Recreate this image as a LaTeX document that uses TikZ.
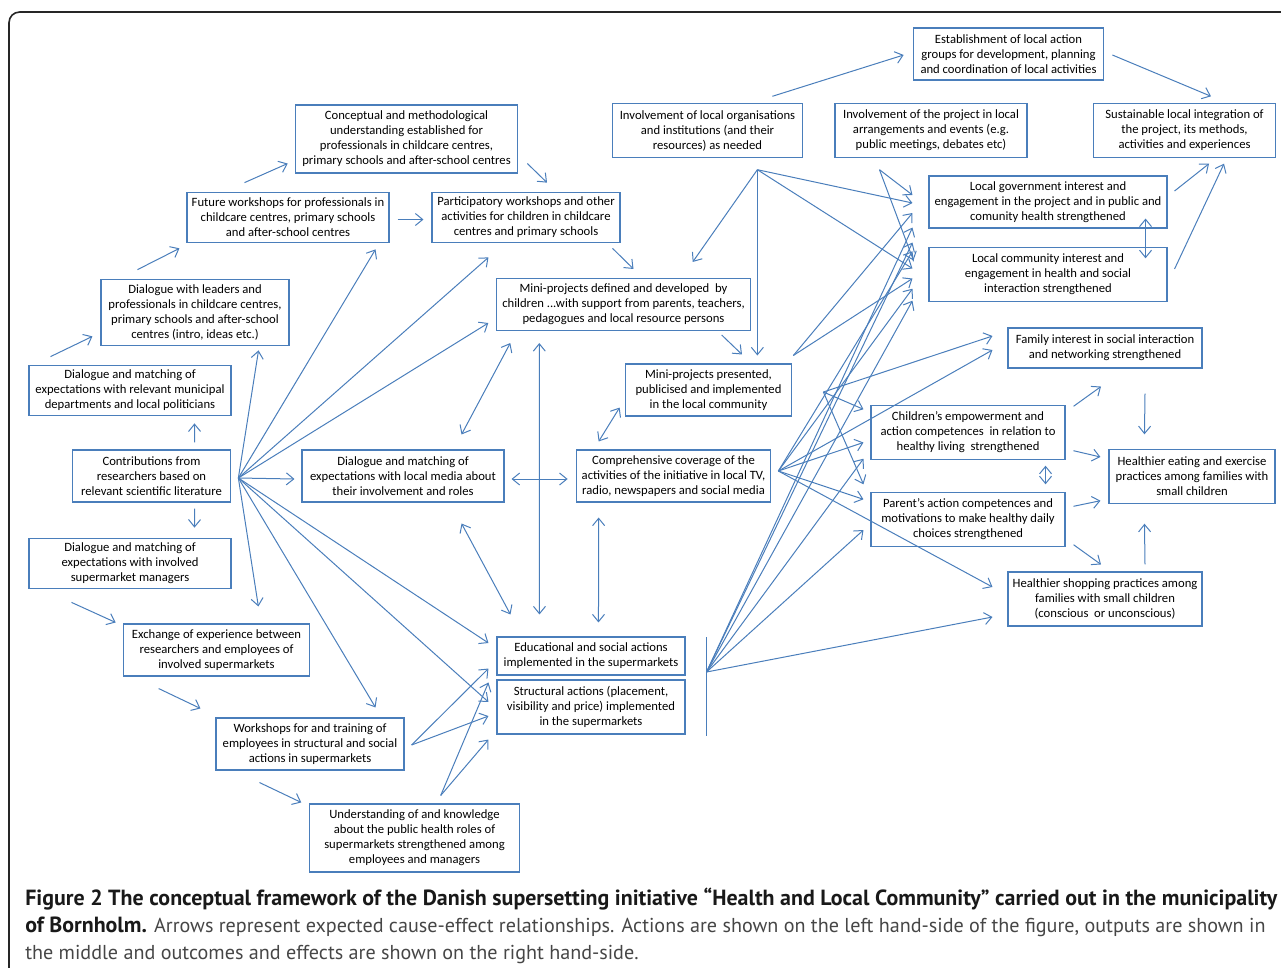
\documentclass[tikz,border=0pt]{standalone}
\usepackage{fontspec}
\setmainfont{Carlito}
\newfontfamily\capfont{PT Sans}
\usetikzlibrary{arrows.meta,calc}
\definecolor{boxblue}{RGB}{74,126,187}
\definecolor{capgray}{RGB}{70,70,70}
\newcommand{\capbold}[1]{{\fontsize{16.45}{20}\selectfont\bfseries\color{black!90}#1}}
\tikzset{
  box/.style={draw=boxblue, line width=0.8pt, align=center, inner sep=1pt,
    font=\fontsize{9.5}{11.25}\selectfont},
  arr/.style={->, draw=boxblue, line width=0.75pt},
  darr/.style={<->, draw=boxblue, line width=0.75pt}
}
\begin{document}
\begin{tikzpicture}[x=0.75pt,y=-0.75pt,>={Straight Barb[length=5.5pt,width=9pt]}]
\useasboundingbox (0,0) rectangle (1281,967);
\draw[line width=1.2pt, rounded corners=8pt, black!85] (9,980) -- (9,12) -- (1295,12); % --- frame

%---- actions (left)
\node[box, minimum width=167pt, minimum height=51pt] (concept) at (406.5,139) {Conceptual and methodological\\understanding established for\\professionals in childcare centres,\\primary schools and after-school centres};
\node[box, minimum width=151.5pt, minimum height=38pt] (future) at (288,217.5) {Future workshops for professionals in\\childcare centres, primary schools\\and after-school centres};
\node[box, minimum width=141pt, minimum height=38pt] (partic) at (526,217.5) {Participatory workshops and other\\activities for children in childcare\\centres and primary schools};
\node[box, minimum width=141pt, minimum height=50pt] (dlead) at (195,312.5) {Dialogue with leaders and\\professionals in childcare centres,\\primary schools and after-school\\centres (intro, ideas etc.)};
\node[box, minimum width=151.5pt, minimum height=38pt] (dmun) at (130,390.5) {Dialogue and matching of\\expectations with relevant municipal\\departments and local politicians};
\node[box, minimum width=119pt, minimum height=39pt] (contrib) at (151.5,476) {Contributions from\\researchers based on\\relevant scientific literature};
\node[box, minimum width=151.5pt, minimum height=38pt] (dsuper) at (130,563.5) {Dialogue and matching of\\expectations with involved\\supermarket managers};
\node[box, minimum width=140pt, minimum height=39pt] (exchange) at (216.5,650) {Exchange of experience between\\researchers and employees of\\involved supermarkets};
\node[box, minimum width=141pt, minimum height=39pt] (workshops) at (310,744) {Workshops for and training of\\employees in structural and social\\actions in supermarkets};
\node[box, minimum width=157pt, minimum height=51pt] (underst) at (414.5,838) {Understanding of and knowledge\\about the public health roles of\\supermarkets strengthened among\\employees and managers};
\node[box, minimum width=151.5pt, minimum height=39pt] (dmedia) at (403,476) {Dialogue and matching of\\expectations with local media about\\their involvement and roles};
\node[box, minimum width=190pt, minimum height=39pt] (mini) at (623.5,304.5) {Mini-projects defined and developed~ by\\children ...with support from parents, teachers,\\pedagogues and local resource persons};
\node[box, minimum width=125pt, minimum height=39pt] (minipres) at (708.5,390) {Mini-projects presented,\\publicised and implemented\\in the local community};
\node[box, minimum width=146pt, minimum height=39pt] (compr) at (673.5,476) {Comprehensive coverage of the\\activities of the initiative in local TV,\\radio, newspapers and social media};
\node[box, minimum width=141pt, minimum height=28.5pt] (educ) at (591,656) {Educational and social actions\\implemented in the supermarkets};
\node[box, minimum width=141pt, minimum height=40.5pt] (struct) at (591,707) {Structural actions (placement,\\visibility and price) implemented\\in the supermarkets};
\node[box, minimum width=143pt, minimum height=40pt] (involv) at (707.5,130.5) {Involvement of local organisations\\and institutions (and their\\resources) as needed};
\node[box, minimum width=144pt, minimum height=40pt] (proj) at (931,130.5) {Involvement of the project in local\\arrangements and events (e.g.\\public meetings, debates etc)};

%---- outcomes and effects (right)
\node[box, minimum width=143pt, minimum height=39pt] (estab) at (1008.5,54) {Establishment of local action\\groups for development, planning\\and coordination of local activities};
\node[box, minimum width=136pt, minimum height=40pt] (sustain) at (1184.5,130.5) {Sustainable local integration of\\the project, its methods,\\activities and experiences};
\node[box, minimum width=178.5pt, minimum height=39pt] (lgov) at (1048,202) {Local government interest and\\engagement in the project and in public and\\comunity health strengthened};
\node[box, minimum width=178.5pt, minimum height=40pt] (lcom) at (1048,274.5) {Local community interest and\\engagement in health and social\\interaction strengthened};
\node[box, minimum width=145.5pt, minimum height=30pt] (family) at (1105,348) {Family interest in social interaction\\and networking strengthened};
\node[box, minimum width=145.5pt, minimum height=40pt] (children) at (968,432.5) {Children's empowerment and\\action competences~ in relation to\\healthy living~ strengthened};
\node[box, minimum width=145.5pt, minimum height=40pt] (parent) at (968,519.5) {Parent’s action competences and\\motivations to make healthy daily\\choices strengthened};
\node[box, minimum width=124.5pt, minimum height=40pt] (eating) at (1192,476.5) {Healthier eating and exercise\\practices among families with\\small children};
\node[box, minimum width=145.5pt, minimum height=40.5pt] (shopping) at (1105,599) {Healthier shopping practices among\\families with small children\\(conscious~ or unconscious)};

%---- hubs where arrows fan out
\coordinate (hubR) at ($(contrib.east)+(7,2)$);
\coordinate (hubW) at ($(workshops.east)+(7,1)$);
\coordinate (hubU) at ($(underst.north east)+(-79,-8)$);
\coordinate (hubI) at ($(involv.south east)+(-46,12)$);
\coordinate (hubP) at ($(proj.south west)+(45,12)$);
\coordinate (hubM) at ($(minipres.north east)+(1,-8)$);
\coordinate (hubN) at ($(minipres.east)+(31,2)$);
\coordinate (hubC) at ($(compr.east)+(7,-5)$);
\coordinate (hubS) at ($(educ.east)+(21,16)$);
\draw[boxblue, line width=0.75pt] ($(educ.north east)+(21,1)$) -- ($(struct.south east)+(21,1)$); % supermarket bar

%---- left chain
\draw[arr] ($(dmun.north west)+(22,-8)$) -- ($(dlead.south west)+(-8,-10)$);
\draw[arr] ($(dlead.north west)+(37,-9)$) -- ($(future.south west)+(-7,5)$);
\draw[arr] ($(future.north west)+(58,-9)$) -- ($(concept.south west)+(-7,-10)$);
\draw[arr] ($(concept.south east)+(9,-10)$) -- ($(partic.north)+(21,-9)$);
\draw[arr] ($(future.east)+(8,2)$) -- ($(partic.west)+(-8,2)$);
\draw[arr] ($(partic.south east)+(-8,5)$) -- ($(mini.north)+(10,-9)$);
\draw[arr] ($(contrib.north west)+(123,-7)$) -- ($(dmun.south west)+(166,7)$);
\draw[arr] ($(contrib.south west)+(123,6)$) -- ($(dsuper.north west)+(166,-10)$);
\draw[arr] ($(dsuper.south west)+(43,13)$) -- ($(exchange.north west)+(-7,-1)$);
\draw[arr] ($(exchange.south west)+(36,12)$) -- ($(workshops.north west)+(-15,-9)$);
\draw[arr] ($(workshops.south west)+(44,12)$) -- ($(underst.north west)+(-8,-1)$);

%---- fan from the researchers
\draw[arr] (hubR) -- ($(dlead.south east)+(-31,4)$);
\draw[arr] (hubR) -- ($(future.south east)+(-14,6)$);
\draw[arr] (hubR) -- ($(partic.south west)+(57,14)$);
\draw[arr] (hubR) -- ($(mini.south west)+(-8,-8)$);
\draw[arr] (hubR) -- ($(dmedia.west)+(-7,3)$);
\draw[arr] (hubR) -- ($(exchange.north east)+(-52,-17)$);
\draw[arr] (hubR) -- ($(workshops.north east)+(-29,-10)$);
\draw[arr] (hubR) -- ($(educ.west)+(-8,-13)$);
\draw[arr] (hubR) -- ($(struct.west)+(-8,-5)$);
\draw[arr] (hubW) -- ($(educ.south west)+(-8,-7)$);
\draw[arr] (hubW) -- ($(struct.west)+(-8,9)$);
\draw[arr] (hubU) -- ($(struct.north west)+(-8,3)$);
\draw[arr] (hubU) -- ($(struct.south west)+(-8,5)$);

%---- outputs in the middle
\draw[darr] ($(dmedia.north east)+(-43,-15)$) -- ($(mini.south west)+(14,12)$);
\draw[darr] ($(dmedia.south east)+(-43,21)$) -- ($(educ.north west)+(14,-22)$);
\draw[darr] ($(mini.south west)+(43,12)$) -- ($(educ.north west)+(43,-22)$);
\draw[darr] ($(dmedia.east)+(7,3)$) -- ($(compr.west)+(-8,3)$);
\draw[darr] ($(compr.north west)+(23,-8)$) -- ($(minipres.south west)+(-5,-9)$);
\draw[darr] ($(compr.south west)+(23,15)$) -- ($(educ.north west)+(102,-14)$);
\draw[arr] ($(involv.north east)+(-31,-7)$) -- ($(estab.west)+(-9,1)$);
\draw[arr] ($(estab.east)+(8,1)$) -- ($(sustain.north)+(26.5,-7)$);
\draw[arr] ($(mini.south east)+(-29,4)$) -- ($(minipres.north)+(33.5,-9)$);
\draw[arr] (hubI) -- ($(mini.north east)+(-58,-16)$);
\draw[arr] (hubI) -- ($(minipres.north east)+(-35,-8)$);
\draw[arr] (hubI) -- ($(lgov.west)+(-16,1)$);
\draw[arr] (hubI) -- ($(lcom.west)+(-16,-6)$);
\draw[arr] (hubP) -- ($(lgov.west)+(-16,-7)$);
\draw[arr] (hubP) -- ($(lcom.west)+(-15,-14)$);
\draw[arr] (hubM) -- ($(lgov.west)+(-16,11)$);
\draw[arr] (hubM) -- ($(lcom.west)+(-16,4)$);
\draw[arr] (hubN) -- ($(family.west)+(-15,-12)$);
\draw[arr] (hubN) -- ($(children.north west)+(-7,4)$);
\draw[arr] (hubN) -- ($(parent.north west)+(-7,-8)$);
\draw[arr] (hubC) -- ($(lcom.north west)+(-16,4)$);
\draw[arr] (hubC) -- ($(lcom.south west)+(-16,-13)$);
\draw[arr] (hubC) -- ($(family.west)+(-15,2)$);
\draw[arr] (hubC) -- ($(children.west)+(-7,10)$);
\draw[arr] (hubC) -- ($(parent.north west)+(-7,7)$);
\draw[arr] (hubC) -- ($(shopping.west)+(-15,-12)$);
\draw[arr] (hubS) -- ($(lgov.south west)+(-16,-1)$);
\draw[arr] (hubS) -- ($(lgov.south west)+(-16,14)$);
\draw[arr] (hubS) -- ($(lcom.south west)+(-16,-1)$);
\draw[arr] (hubS) -- ($(children.south west)+(-7,-1)$);
\draw[arr] (hubS) -- ($(parent.west)+(-7,10.5)$);
\draw[arr] (hubS) -- ($(shopping.west)+(-15,18)$);

%---- right side
\draw[arr] ($(lgov.east)+(7,-11)$) -- ($(sustain.south)+(24.5,6)$);
\draw[arr] ($(lcom.east)+(7,-5.5)$) -- ($(sustain.south)+(39.5,6)$);
\draw[darr] ($(lgov.south east)+(-22,-10)$) -- ($(lcom.north east)+(-22,11)$);
\draw[arr] ($(children.north east)+(8,1)$) -- ($(family.south)+(-4,18)$);
\draw[arr] ($(family.south)+(40,25)$) -- ($(eating.north west)+(36,-15)$);
\draw[arr] ($(children.south east)+(8,-9)$) -- ($(eating.west)+(-8,-19.5)$);
\draw[arr] ($(parent.north east)+(8,14)$) -- ($(eating.south west)+(-8,-3)$);
\draw[arr] ($(parent.south east)+(8,-2)$) -- ($(shopping.north)+(-4,-7)$);
\draw[arr] ($(shopping.north)+(40,-7)$) -- ($(eating.south west)+(36,20)$);
\draw[darr] ($(children.south east)+(-20,6)$) -- ($(parent.north east)+(-20,-8)$);

%---- caption
\node[anchor=north west, align=left, inner sep=0pt, text=capgray,
  font=\capfont\fontsize{15.1}{20}\selectfont] (caption) at (25,888)
  {\capbold{Figure 2 The conceptual framework of the Danish supersetting initiative “Health and Local Community” carried out in the municipality}\\
   \capbold{of Bornholm.} Arrows represent expected cause-effect relationships. Actions are shown on the left hand-side of the figure, outputs are shown in\\
   the middle and outcomes and effects are shown on the right hand-side.};
\end{tikzpicture}
\end{document}
